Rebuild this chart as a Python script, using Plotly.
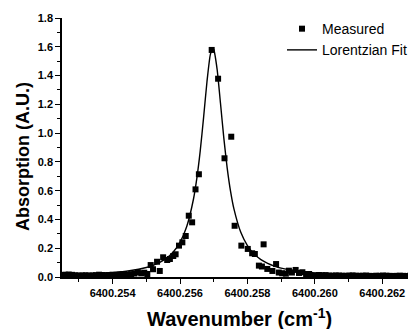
import plotly.graph_objects as go

meas_x = [
    6400.25250, 6400.25260, 6400.25270, 6400.25280, 6400.25290, 6400.25300,
    6400.25310, 6400.25320, 6400.25330, 6400.25340, 6400.25350, 6400.25360,
    6400.25370, 6400.25380, 6400.25389, 6400.25400, 6400.25410, 6400.25420,
    6400.25430, 6400.25443, 6400.25455, 6400.25465, 6400.25475, 6400.25485,
    6400.25494, 6400.25503, 6400.25513, 6400.25520, 6400.25532, 6400.25540,
    6400.25550, 6400.25562, 6400.25570, 6400.25580, 6400.25587, 6400.25597,
    6400.25607, 6400.25617, 6400.25626, 6400.25636, 6400.25646, 6400.25656,
    6400.25694, 6400.25713, 6400.25732, 6400.25752, 6400.25762, 6400.25782,
    6400.25801, 6400.25814, 6400.25822, 6400.25834, 6400.25843, 6400.25848,
    6400.25859, 6400.25874, 6400.25885, 6400.25893, 6400.25903, 6400.25914,
    6400.25923, 6400.25932, 6400.25943, 6400.25953, 6400.25963, 6400.25974,
    6400.25983, 6400.25997, 6400.26012, 6400.26022, 6400.26032, 6400.26042,
    6400.26052, 6400.26062, 6400.26072, 6400.26082, 6400.26092, 6400.26102,
    6400.26112, 6400.26122, 6400.26132, 6400.26142, 6400.26152, 6400.26162,
    6400.26172, 6400.26182, 6400.26192, 6400.26202, 6400.26212, 6400.26222,
    6400.26232, 6400.26242, 6400.26252, 6400.26262, 6400.26272, 6400.26282,
    6400.26292, 6400.26300,
]
meas_y = [
    0.014, 0.016, 0.017, 0.015, 0.012, 0.010,
    0.011, 0.012, 0.010, 0.011, 0.013, 0.016,
    0.014, 0.012, 0.014, 0.016, 0.013, 0.015,
    0.018, 0.016, 0.020, 0.024, 0.033, 0.025,
    0.030, 0.021, 0.083, 0.054, 0.106, 0.042,
    0.137, 0.118, 0.125, 0.146, 0.158, 0.218,
    0.241, 0.285, 0.426, 0.380, 0.609, 0.714,
    1.578, 1.378, 0.825, 0.975, 0.356, 0.218,
    0.195, 0.165, 0.160, 0.079, 0.073, 0.227,
    0.056, 0.042, 0.090, 0.031, 0.026, 0.023,
    0.044, 0.031, 0.049, 0.028, 0.033, 0.021,
    0.021, 0.010, 0.014, 0.012, 0.013, 0.010,
    0.009, 0.011, 0.010, 0.009, 0.008, 0.010,
    0.011, 0.009, 0.008, 0.009, 0.010, 0.008,
    0.007, 0.009, 0.008, 0.010, 0.009, 0.008,
    0.007, 0.008, 0.009, 0.008, 0.007, 0.008,
    0.009, 0.008,
]

# Lorentzian fit curve
fit_x = [
    6400.2525, 6400.2530, 6400.2535, 6400.2540, 6400.2545, 6400.2550,
    6400.2552, 6400.2554, 6400.2556, 6400.2558, 6400.2560, 6400.2562,
    6400.2564, 6400.2565, 6400.2566, 6400.2567, 6400.2568, 6400.2569,
    6400.25697, 6400.2570, 6400.2571, 6400.2572, 6400.2573, 6400.2574,
    6400.2575, 6400.2576, 6400.2578, 6400.2580, 6400.2582, 6400.2584,
    6400.2586, 6400.2588, 6400.2590, 6400.2595, 6400.2600, 6400.2605,
    6400.2610, 6400.2615, 6400.2620, 6400.2625, 6400.2630,
]
fit_y = [
    0.013, 0.017, 0.022, 0.030, 0.043, 0.066,
    0.081, 0.102, 0.131, 0.174, 0.241, 0.351,
    0.542, 0.687, 0.876, 1.109, 1.357, 1.545,
    1.590, 1.582, 1.445, 1.209, 0.965, 0.757,
    0.595, 0.473, 0.312, 0.218, 0.159, 0.121,
    0.095, 0.076, 0.062, 0.041, 0.029, 0.021,
    0.016, 0.013, 0.011, 0.009, 0.007,
]

FAM = "Liberation Sans, Arial, sans-serif"
BOLD = dict(family=FAM, size=11, color="black", weight="bold")

fig = go.Figure()
fig.add_trace(go.Scatter(
    x=meas_x, y=meas_y, mode="markers", name="Measured",
    marker=dict(symbol="square", size=6, color="black", line=dict(width=0)),
))
fig.add_trace(go.Scatter(
    x=fit_x, y=fit_y, mode="lines", name="Lorentzian Fit",
    line=dict(color="black", width=1.4, shape="spline", smoothing=0.6),
))

fig.update_layout(
    width=408, height=321,
    margin=dict(l=54, r=0, t=10, b=52),
    paper_bgcolor="white", plot_bgcolor="white",
    showlegend=True,
    legend=dict(
        x=(282 - 62) / 354, y=1.019, xanchor="left", yanchor="top",
        bgcolor="rgba(0,0,0,0)", borderwidth=0,
        font=dict(family=FAM, size=14, color="black"),
        itemwidth=30, tracegroupgap=0,
    ),
    xaxis=dict(
        range=[6400.2525, 6400.2630],
        tick0=6400.254, dtick=0.002, tickformat=".3f",
        ticks="outside", ticklen=5, tickwidth=1.2, tickcolor="black",
        minor=dict(dtick=0.001, tick0=6400.253, ticks="outside", ticklen=3,
                   tickwidth=1.2, tickcolor="black"),
        showline=True, linecolor="black", linewidth=1.5,
        showgrid=False, zeroline=False,
        tickfont=BOLD,
    ),
    yaxis=dict(
        range=[0, 1.8],
        tick0=0, dtick=0.2, tickformat=".1f",
        ticks="outside", ticklen=5, tickwidth=1.2, tickcolor="black",
        minor=dict(dtick=0.1, ticks="outside", ticklen=3,
                   tickwidth=1.2, tickcolor="black"),
        showline=True, linecolor="black", linewidth=1.5,
        showgrid=False, zeroline=False,
        tickfont=BOLD,
    ),
    annotations=[
        dict(text="Absorption (A.U.)", textangle=-90,
             xref="paper", yref="paper", x=(23 - 62) / 354, y=(277 - 157) / 259,
             xanchor="center", yanchor="middle", showarrow=False,
             font=dict(family=FAM, size=18, color="black", weight="bold")),
        dict(text="Wavenumber (cm<sup>-1</sup>)",
             xref="paper", yref="paper", x=0.5, y=(277 - 317) / 259,
             xanchor="center", yanchor="middle", showarrow=False,
             font=dict(family=FAM, size=20, color="black", weight="bold")),
    ],
)

fig.write_html("out.html")
